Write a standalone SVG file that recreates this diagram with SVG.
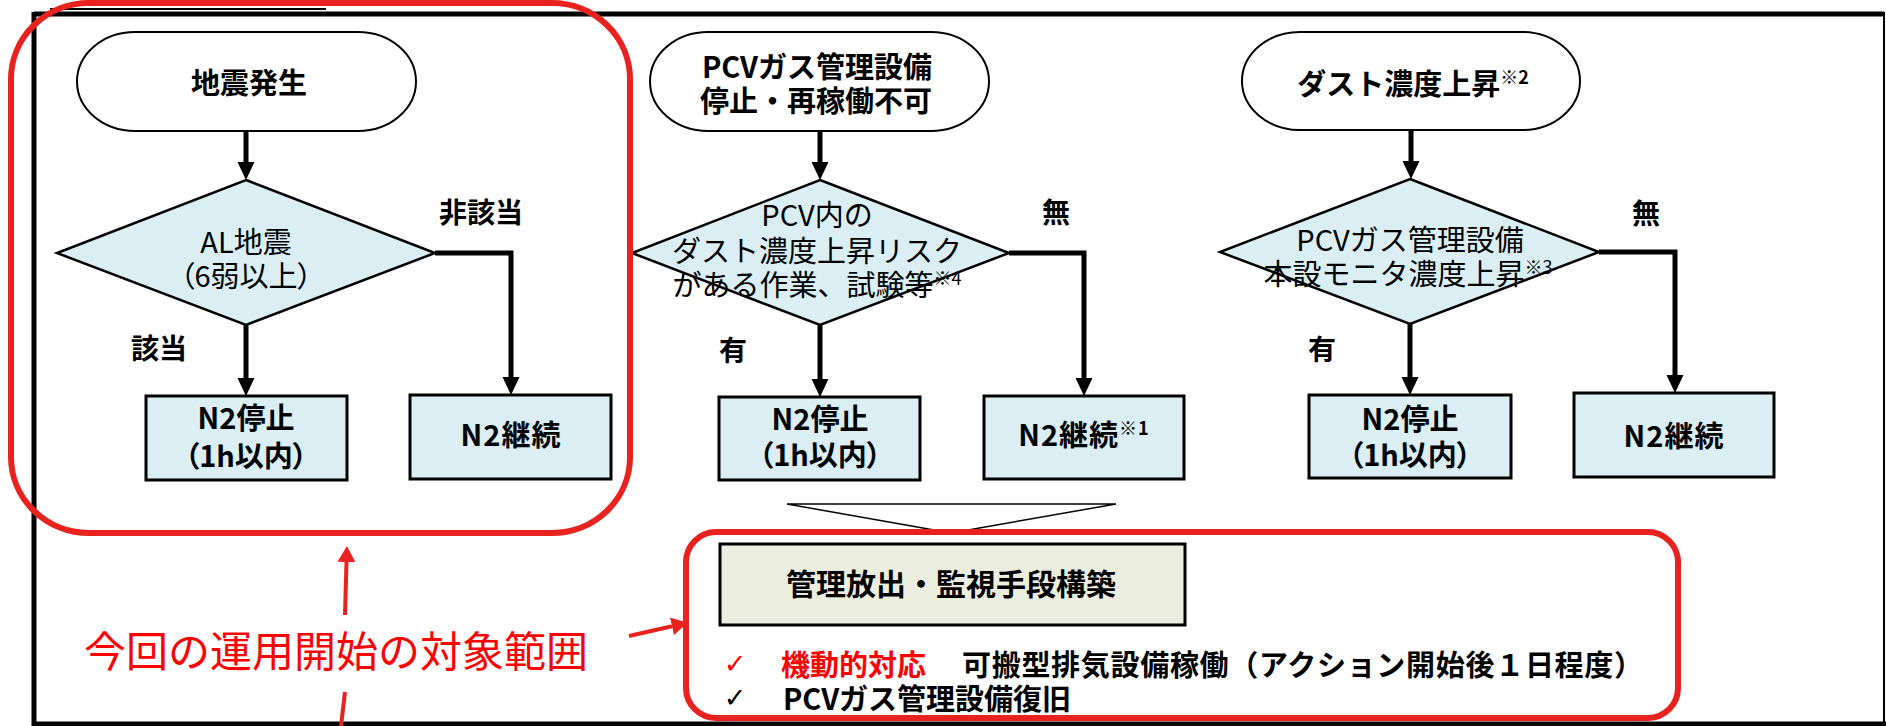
<svg xmlns="http://www.w3.org/2000/svg" width="1886" height="726" viewBox="0 0 1886 726">
<style>
.term{fill:#fff;stroke:#000;stroke-width:2}
.dia{fill:#DAEEF3;stroke:#000;stroke-width:2.5}
.box{fill:#DAEEF3;stroke:#000;stroke-width:3}
.conn{fill:none;stroke:#000;stroke-width:5}
.t{font-family:"Noto Sans CJK JP","Noto Sans",sans-serif;text-anchor:middle;dominant-baseline:central;fill:#000}
.b{font-weight:bold;font-size:29px}
.n{font-weight:normal;font-size:29px}
.lbl{font-weight:bold;font-size:28px}
.sup{font-size:18px}
.palt{font-feature-settings:"palt"}
.redframe{fill:none;stroke:#E8221E;stroke-width:6}
.redline{fill:none;stroke:#E8221E;stroke-width:4}
.frame{stroke:#000;fill:none}
.ck{font-family:"DejaVu Sans",sans-serif;font-size:27px;text-anchor:middle;dominant-baseline:central}
.act{font-family:"Noto Sans CJK JP",sans-serif;font-weight:bold;font-size:29px;dominant-baseline:central}
</style>
<defs>
<marker id="ah" markerUnits="userSpaceOnUse" markerWidth="18" markerHeight="18" viewBox="0 -9 18 18" refX="0" refY="0" orient="auto">
<path d="M0,-8.5 L18,0 L0,8.5 Z" fill="#000"/>
</marker>
<marker id="rah" markerUnits="userSpaceOnUse" markerWidth="16" markerHeight="18" viewBox="0 -9 16 18" refX="0" refY="0" orient="auto">
<path d="M0,-9 L16,0 L0,9 Z" fill="#E8221E"/>
</marker>
</defs>

<rect width="1886" height="726" fill="#fff"/>

<g id="frame">
<line class="frame" x1="50" y1="9" x2="326" y2="9" stroke-width="2"/>
<line class="frame" x1="34" y1="14" x2="1884" y2="14" stroke-width="5"/>
<line class="frame" x1="34" y1="12" x2="34" y2="726" stroke-width="5"/>
<line class="frame" x1="1884" y1="12" x2="1884" y2="726" stroke-width="2"/>
<line class="frame" x1="32" y1="724" x2="1886" y2="724" stroke-width="5"/>
</g>

<g id="connectors">
<line class="conn" x1="246" y1="131" x2="246" y2="162" marker-end="url(#ah)"/>
<line class="conn" x1="246" y1="325" x2="246" y2="378" marker-end="url(#ah)"/>
<path class="conn" d="M435,253 H511 V377" marker-end="url(#ah)"/>
<line class="conn" x1="820" y1="131" x2="820" y2="162" marker-end="url(#ah)"/>
<line class="conn" x1="820" y1="325" x2="820" y2="379" marker-end="url(#ah)"/>
<path class="conn" d="M1009,253 H1084 V378" marker-end="url(#ah)"/>
<line class="conn" x1="1411" y1="131" x2="1411" y2="161" marker-end="url(#ah)"/>
<line class="conn" x1="1410" y1="324" x2="1410" y2="377" marker-end="url(#ah)"/>
<path class="conn" d="M1599,252 H1675 V375" marker-end="url(#ah)"/>
</g>

<g id="n-quake">
<rect class="term" x="77" y="32" width="339" height="99" rx="58" ry="49.5"/>
<text class="t b" x="249" y="81">地震発生</text>
</g>
<g id="n-al">
<polygon class="dia" points="246,180 435,253 246,325 57,253"/>
<text class="t n" x="246" y="240">AL地震</text>
<text class="t n palt" x="246" y="274">（6弱以上）</text>
</g>
<g id="l-hi">
<text class="t lbl" x="481" y="211">非該当</text>
</g>
<g id="l-gai">
<text class="t lbl" x="159" y="347">該当</text>
</g>
<g id="n-stop1">
<rect class="box" x="146" y="396" width="201" height="84"/>
<text class="t b" x="246" y="416">N2停止</text>
<text class="t b palt" x="246" y="454">（1h以内）</text>
</g>
<g id="n-cont1">
<rect class="box" x="410" y="395" width="201" height="84"/>
<text class="t b" x="511" y="433" letter-spacing="1">N2継続</text>
</g>

<g id="n-pcv">
<rect class="term" x="650" y="32" width="339" height="99" rx="58" ry="49.5"/>
<text class="t b" x="817" y="65">PCVガス管理設備</text>
<text class="t b" x="816" y="99">停止・再稼働不可</text>
</g>
<g id="n-risk">
<polygon class="dia" points="820,180 1009,253 820,325 632,253"/>
<text class="t n" x="817" y="213">PCV内の</text>
<text class="t n" x="817" y="249">ダスト濃度上昇リスク</text>
<text class="t n" x="817" y="283">がある作業、試験等<tspan class="sup" dy="-6">※4</tspan></text>
</g>
<g id="l-mu2">
<text class="t lbl" x="1056" y="211">無</text>
</g>
<g id="l-yu2">
<text class="t lbl" x="733" y="349">有</text>
</g>
<g id="n-stop2">
<rect class="box" x="719" y="397" width="201" height="83"/>
<text class="t b" x="820" y="417">N2停止</text>
<text class="t b palt" x="820" y="453">（1h以内）</text>
</g>
<g id="n-cont2">
<rect class="box" x="984" y="396" width="200" height="83"/>
<text class="t b" x="1084" y="433" letter-spacing="1">N2継続<tspan class="sup" dy="-6">※1</tspan></text>
</g>

<g id="n-dust">
<rect class="term" x="1242" y="32" width="338" height="98" rx="58" ry="49"/>
<text class="t b" x="1413" y="82">ダスト濃度上昇<tspan class="sup" dy="-6">※2</tspan></text>
</g>
<g id="n-monitor">
<polygon class="dia" points="1410,179 1599,252 1410,324 1220,252"/>
<text class="t n" x="1410" y="238">PCVガス管理設備</text>
<text class="t n" x="1408" y="272">本設モニタ濃度上昇<tspan class="sup" dy="-6">※3</tspan></text>
</g>
<g id="l-mu3">
<text class="t lbl" x="1646" y="212">無</text>
</g>
<g id="l-yu3">
<text class="t lbl" x="1322" y="348">有</text>
</g>
<g id="n-stop3">
<rect class="box" x="1309" y="395" width="202" height="83"/>
<text class="t b" x="1410" y="417">N2停止</text>
<text class="t b palt" x="1410" y="453">（1h以内）</text>
</g>
<g id="n-cont3">
<rect class="box" x="1574" y="393" width="200" height="84"/>
<text class="t b" x="1674" y="434" letter-spacing="1">N2継続</text>
</g>

<g id="wedge">
<polygon points="787,504 1116,504 951,533" fill="#fff" stroke="#000" stroke-width="1.5"/>
</g>

<g id="n-release">
<rect x="720" y="544" width="465" height="81" fill="#EBEEDF" stroke="#000" stroke-width="3"/>
<text class="t b" x="951" y="582" style="font-size:30px">管理放出・監視手段構築</text>
</g>

<g id="actions">
<text class="ck" x="735" y="663" fill="#FF0000">✓</text>
<text class="act" x="781" y="663" fill="#FF0000">機動的対応</text>
<text class="act" x="962" y="663" fill="#000" textLength="681">可搬型排気設備稼働（アクション開始後１日程度）</text>
<text class="ck" x="735" y="697" fill="#000">✓</text>
<text class="act" x="783" y="697" fill="#000">PCVガス管理設備復旧</text>
</g>

<g id="scope">
<rect class="redframe" x="11" y="3" width="619" height="530" rx="78" ry="76"/>
<rect class="redframe" x="686" y="532" width="992" height="186" rx="30" ry="30"/>
<line class="redline" x1="341" y1="726" x2="345" y2="692"/>
<line class="redline" x1="345" y1="615" x2="346.5" y2="562" marker-end="url(#rah)"/>
<line class="redline" x1="629" y1="636" x2="672" y2="626.3" marker-end="url(#rah)"/>
<text x="336" y="648" font-family="Noto Sans CJK JP, sans-serif" font-size="42" fill="#FF0000" text-anchor="middle" dominant-baseline="central">今回の運用開始の対象範囲</text>
</g>
</svg>
